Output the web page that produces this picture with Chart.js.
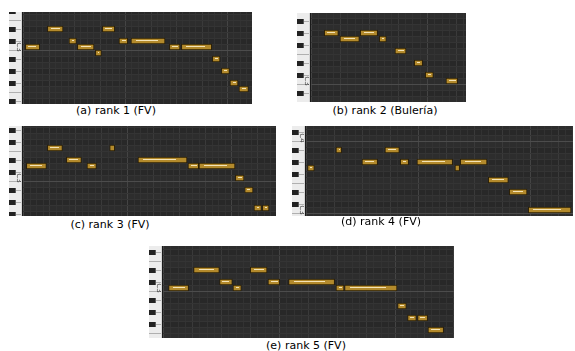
<!DOCTYPE html>
<html>
<head>
<meta charset="utf-8">
<script src="https://cdn.jsdelivr.net/npm/chart.js@4.4.0/dist/chart.umd.min.js"></script>
<style>
html,body{margin:0;padding:0;background:#fff;}
body{width:575px;height:351px;position:relative;overflow:hidden;font-family:'DejaVu Sans',Verdana,sans-serif;}
.roll{position:absolute;}
.roll canvas{display:block;}
.cap{position:absolute;font-size:11px;line-height:13px;color:#000;white-space:nowrap;transform:translateX(-50%);}
</style>
</head>
<body>
<div class="roll" style="left:9px;top:12px"><canvas id="roll-a" width="243" height="92"></canvas></div>
<div class="roll" style="left:297px;top:13px"><canvas id="roll-b" width="169" height="89"></canvas></div>
<div class="roll" style="left:9px;top:126px"><canvas id="roll-c" width="267" height="90"></canvas></div>
<div class="roll" style="left:292px;top:126px"><canvas id="roll-d" width="281" height="90"></canvas></div>
<div class="roll" style="left:149px;top:246px"><canvas id="roll-e" width="305" height="92"></canvas></div>

<div class="cap" id="cap-a" style="left:116px;top:104px"></div>
<div class="cap" id="cap-b" style="left:385px;top:104px"></div>
<div class="cap" id="cap-c" style="left:110px;top:218px"></div>
<div class="cap" id="cap-d" style="left:381px;top:215px"></div>
<div class="cap" id="cap-e" style="left:306px;top:339px"></div>

<script>
// pitch = semitones from C3, on/off = note start/end in ticks

// (a) rank 1 (FV)
const aPitch = [0, 3, 1, 0, -1, 3, 1, 1, 0, 0, -2, -4, -6, -7];
const aOn    = [2.4, 24.4, 46, 54.4, 72.4, 79.4, 96, 108, 146.4, 158.4, 189.4, 198.4, 207, 216];
const aOff   = [16.7, 40, 53.4, 71, 78.4, 91.7, 104.7, 142, 157, 188.7, 197, 206.4, 215, 225.4];

// (b) rank 2 (Bulería)
const bPitch = [8, 7, 8, 7, 5, 3, 1, 0];
const bOn    = [13.3, 29, 49.3, 68.3, 84, 103.3, 114.3, 135];
const bOff   = [27.3, 48.3, 66.6, 75.3, 95, 111.6, 122.3, 146.6];

// (c) rank 3 (FV)
const cPitch = [2, 5, 3, 2, 5, 3, 2, 2, 0, -2, -5, -5];
const cOn    = [3.4, 24.4, 43.4, 64, 86.7, 115, 165, 176, 212.4, 221.7, 231, 239.4];
const cOff   = [23.4, 39.4, 58.4, 73.4, 91.7, 164, 175.7, 212, 221, 230, 238.4, 246];

// (d) rank 4 (FV)
const dPitch = [7, 10, 8, 10, 8, 8, 7, 8, 5, 3, 0];
const dOn    = [1.6, 30, 56, 79, 94.3, 111, 149, 154.3, 182.3, 203.3, 222.3];
const dOff   = [8.3, 35.6, 71.6, 93.3, 102.6, 146.6, 153.6, 181, 202.3, 221, 265];

// (e) rank 5 (FV)
const ePitch = [0, 3, 1, 0, 3, 1, 1, 0, 0, -3, -5, -5, -7];
const eOn    = [5.6, 30.6, 56.6, 70, 87.3, 105, 125.6, 173, 181.6, 234.6, 244.6, 254.6, 265];
const eOff   = [25.6, 56.3, 69.3, 78.3, 104, 116.6, 171.6, 181, 234, 243.3, 253.3, 264.6, 280.6];

const captions = ['(a) rank 1 (FV)', '(b) rank 2 (Bulería)', '(c) rank 3 (FV)', '(d) rank 4 (FV)', '(e) rank 5 (FV)'];

// visible window of each roll: ticks shown, pitch range, beat length in ticks
const views = [
  { id:'a', pitch:aPitch, on:aOn, off:aOff, len:229, lo:-9.5,   hi:35/6,  beat:25.5 },
  { id:'b', pitch:bPitch, on:bOn, off:bOff, len:155, lo:-3.5,   hi:68/6,  beat:29 },
  { id:'c', pitch:cPitch, on:cOn, off:cOff, len:253, lo:-38/6,  hi:52/6,  beat:26 },
  { id:'d', pitch:dPitch, on:dOn, off:dOff, len:267, lo:-1,     hi:14,    beat:28 },
  { id:'e', pitch:ePitch, on:eOn, off:eOff, len:291, lo:-50/6,  hi:7,     beat:29 }
];

const KEY_W = 14;
const BLACK = [1, 3, 6, 8, 10];
const mod12 = n => ((n % 12) + 12) % 12;

const rollPlugin = {
  id: 'roll',
  beforeDatasetsDraw(chart){
    const { ctx, chartArea: a, scales: { x, y } } = chart;
    const w = a.right - a.left, h = a.bottom - a.top;
    const v = chart.options.plugins.roll;
    const nTop = Math.ceil(v.hi) + 1, nBot = Math.floor(v.lo) - 1;
    ctx.save();

    // grid background
    ctx.beginPath(); ctx.rect(a.left, a.top, w, h); ctx.clip();
    ctx.fillStyle = '#2d2d2d';
    ctx.fillRect(a.left, a.top, w, h);
    for(let n = nBot; n <= nTop; n++){
      const y0 = y.getPixelForValue(n + 0.5), y1 = y.getPixelForValue(n - 0.5);
      if(BLACK.includes(mod12(n))){ ctx.fillStyle = '#282828'; ctx.fillRect(a.left, y0, w, y1 - y0); }
    }
    const step = v.beat / 4;
    for(let i = 0; i * step <= v.len; i++){
      const px = Math.round(x.getPixelForValue(i * step));
      ctx.fillStyle = i % 16 === 0 ? '#444444' : (i % 4 === 0 ? '#3a3a3a' : '#323232');
      ctx.fillRect(px, a.top, 1, h);
    }
    for(let n = nBot; n <= nTop; n++){
      const y1 = Math.round(y.getPixelForValue(n - 0.5));
      ctx.fillStyle = mod12(n) === 0 ? '#4c4c4c' : '#343434';
      ctx.fillRect(a.left, y1, w, 1);
    }
    ctx.restore();

    // piano keys
    ctx.save();
    ctx.beginPath(); ctx.rect(0, a.top, a.left, h); ctx.clip();
    const kw = a.left, bw = 7;
    ctx.fillStyle = '#ececec';
    ctx.fillRect(0, a.top, kw, h);
    for(let n = nBot; n <= nTop; n++){
      const m = mod12(n);
      const y0 = Math.round(y.getPixelForValue(n + 0.5)), y1 = Math.round(y.getPixelForValue(n - 0.5));
      const yc = Math.round((y0 + y1) / 2);
      if(BLACK.includes(m)){
        ctx.fillStyle = '#b0b0b0';
        ctx.fillRect(bw, yc, kw - bw, 1);
        ctx.fillStyle = '#222222';
        ctx.fillRect(0, y0 + 1, bw, y1 - y0 - 1);
        ctx.fillStyle = '#5a5a5a';
        ctx.fillRect(bw - 1, y0 + 1, 1, y1 - y0 - 1);
      }
      if(m === 0 || m === 5){
        ctx.fillStyle = '#b0b0b0';
        ctx.fillRect(0, y1, kw, 1);
      }
      const yMid = (y0 + y1) / 2;
      if(m === 0 && yMid > a.top + 2 && yMid < a.bottom - 2){
        ctx.save();
        ctx.translate(kw - 4.5, yMid);
        ctx.rotate(Math.PI / 2);
        ctx.font = '7px "DejaVu Sans", sans-serif';
        ctx.textAlign = 'center';
        ctx.textBaseline = 'middle';
        ctx.fillStyle = '#444';
        ctx.fillText('C' + (3 + Math.floor(n / 12)), 0, 0);
        ctx.restore();
      }
    }
    ctx.fillStyle = '#d4d4d4';
    ctx.fillRect(kw - 2, a.top, 1, h);
    ctx.fillStyle = '#1a1a1a';
    ctx.fillRect(kw - 1, a.top, 1, h);
    ctx.restore();
  },
  afterDatasetsDraw(chart){
    const { ctx } = chart;
    ctx.save();
    ctx.fillStyle = 'rgba(248,232,190,0.95)';
    chart.getDatasetMeta(0).data.forEach(bar => {
      const { x: xe, base: xs, y: yc } = bar.getProps(['x', 'base', 'y'], true);
      const l = Math.min(xs, xe), r = Math.max(xs, xe), w = r - l;
      const s = l + Math.max(2.5, Math.min(5, w * 0.2));
      const e = r - Math.max(2.5, w * 0.22);
      if(e > s) ctx.fillRect(Math.round(s), Math.round(yc) - 1, Math.round(e - s), 1);
    });
    ctx.restore();
  }
};

views.forEach((v, k) => {
  document.getElementById('cap-' + v.id).textContent = captions[k];
  const notes = v.pitch.map((p, i) => ({ y: p, x: [v.on[i], v.off[i]] }));
  new Chart(document.getElementById('roll-' + v.id), {
    type: 'bar',
    data: { datasets: [{
      data: notes,
      backgroundColor: '#b38a2c',
      borderColor: '#2b1f06',
      borderWidth: 1,
      borderSkipped: false,
      barThickness: 6
    }] },
    options: {
      indexAxis: 'y',
      responsive: false,
      animation: false,
      devicePixelRatio: 1,
      layout: { padding: { left: KEY_W, top: 0, right: 0, bottom: 0 } },
      scales: {
        x: { type: 'linear', min: 0, max: v.len, display: false },
        // bar defaults turn on offset for the index axis; the roll needs exact pitch rows
        y: { type: 'linear', min: v.lo, max: v.hi, display: false, offset: false }
      },
      plugins: { legend: { display: false }, tooltip: { enabled: false }, roll: v }
    },
    plugins: [rollPlugin]
  });
});
</script>
</body>
</html>
